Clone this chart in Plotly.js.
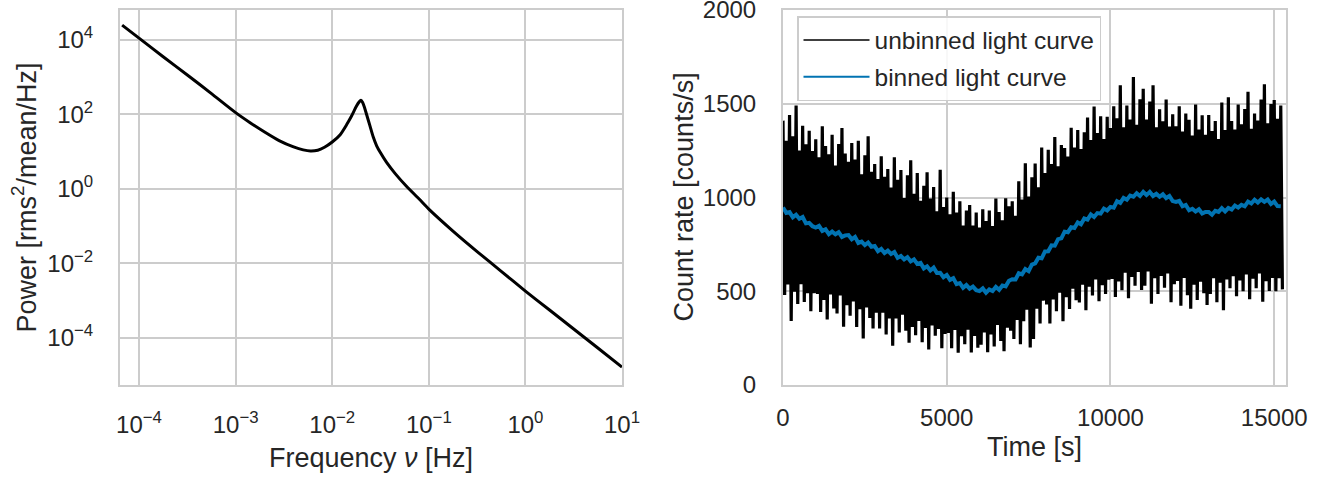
<!DOCTYPE html>
<html><head><meta charset="utf-8">
<script src="https://cdn.plot.ly/plotly-3.0.1.min.js"></script>
<style>html,body{margin:0;padding:0;background:#fff}#chart{width:1329px;height:478px}</style>
</head><body><div id="chart"></div>
<script>
// ---- Left panel: power spectrum (log10 values) ----
const logFreq = [-4.175,-4.0,-3.75,-3.5,-3.25,-3.0,-2.85,-2.7,-2.55,-2.4,-2.3,-2.226,-2.15,-2.08,-2.0,-1.92,-1.85,-1.8,-1.75,-1.72,-1.703,-1.685,-1.665,-1.644,-1.61,-1.576,-1.54,-1.5,-1.439,-1.35,-1.234,-1.1,-1.0,-0.75,-0.5,-0.25,0.0,0.25,0.5,0.75,1.0];
const logPower = [4.40,4.05,3.55,3.06,2.56,2.05,1.78,1.53,1.30,1.13,1.05,1.02,1.04,1.12,1.26,1.45,1.73,1.96,2.22,2.34,2.38,2.32,2.18,2.00,1.70,1.40,1.16,0.97,0.72,0.42,0.08,-0.27,-0.54,-1.13,-1.68,-2.21,-2.74,-3.25,-3.76,-4.27,-4.78];
const powerTickVals = [1e-4,1e-2,1,1e2,1e4];
const powerTickText = ['10<sup>\u22124</sup>','10<sup>\u22122</sup>','10<sup>0</sup>','10<sup>2</sup>','10<sup>4</sup>'];
const freqTickVals = [1e-4,1e-3,1e-2,1e-1,1,10];
const freqTickText = ['10<sup>\u22124</sup>','10<sup>\u22123</sup>','10<sup>\u22122</sup>','10<sup>\u22121</sup>','10<sup>0</sup>','10<sup>1</sup>'];

// ---- Right panel: light curves (count rate in counts/s) ----
const timeStep = 100;      // s between samples
const unbinnedHigh = [
1410,1302,1440,1326,1490,1250,1382,1284,1356,1248,
1310,1215,1380,1275,1230,1335,1170,1285,1370,1235,
1190,1291,1202,1303,1124,1225,1326,1137,1178,1099,
1220,1111,1152,1053,1214,1095,1146,997,1118,1199,
1020,1131,982,1063,1134,995,1056,927,1148,949,
1000,910,1030,920,980,850,930,960,850,920,
840,937,874,931,848,995,922,879,996,953,
980,903,1086,989,1182,1005,1108,1181,1054,1267,
1130,1254,1178,1322,1166,1280,1264,1218,1372,1266,
1360,1259,1348,1427,1306,1485,1344,1433,1312,1431,
1370,1486,1422,1598,1374,1490,1416,1642,1388,1524,
1580,1416,1512,1598,1374,1470,1406,1522,1378,1444,
1380,1486,1352,1448,1414,1330,1496,1362,1438,1334,
1440,1354,1408,1312,1506,1360,1534,1408,1362,1496,
1390,1472,1564,1366,1448,1410,1522,1604,1396,1498,
1520,1420,1490];
const unbinnedLow = [
480,536,341,497,432,538,443,489,394,490,
485,390,454,349,483,408,382,477,311,426,
370,445,309,404,248,413,357,302,386,301,
385,270,355,210,355,280,375,290,225,310,
265,341,228,304,190,317,263,299,196,272,
278,196,294,172,260,217,295,173,261,199,
215,280,175,270,205,320,235,180,305,290,
245,347,218,340,402,200,245,407,328,450,
430,328,456,394,492,340,468,406,514,452,
440,535,399,524,478,563,447,532,486,561,
565,469,552,506,599,463,576,530,603,507,
530,606,433,569,486,582,519,595,442,538,
555,423,571,479,407,535,453,551,489,427,
485,569,442,546,399,563,516,580,473,557,
500,589,458,567,516,595,444,553,502,571,
500,570,510];
const binnedRate = [
947,918,922,894,908,887,896,862,865,847,
840,849,822,830,805,818,804,815,790,798,
800,777,790,758,765,746,760,737,741,714,
726,704,717,699,709,678,688,670,682,659,
670,646,651,622,633,611,626,597,598,575,
587,561,570,538,543,518,533,514,525,506,
501,515,492,510,501,523,508,531,526,556,
564,563,596,590,618,607,642,649,679,676,
712,713,745,743,778,782,818,815,841,837,
867,857,888,882,910,896,917,914,941,931,
950,946,980,971,998,988,1010,1004,1023,1008,
1030,1013,1030,1008,1020,1004,1017,997,1008,981,
976,982,953,960,932,940,925,937,915,923,
923,908,929,923,943,926,944,936,957,946,
961,953,978,968,988,973,990,977,989,965,
978,954,953];
const timeTicks = [0,5000,10000,15000];
const rateTicks = [0,500,1000,1500,2000];
const seriesNames = ['unbinned light curve', 'binned light curve'];

// ---- build traces ----
const freq = logFreq.map(v => Math.pow(10, v));
const power = logPower.map(v => Math.pow(10, v));

const tUnb = [], rUnb = [];
for (let i = 0; i < unbinnedHigh.length; i++) {
  tUnb.push(i * timeStep); rUnb.push(unbinnedHigh[i]);
  tUnb.push(i * timeStep + timeStep / 2); rUnb.push(unbinnedLow[i]);
}
const tBin = binnedRate.map((_, i) => i * timeStep);

const FONT = 'Liberation Sans, Arial, Helvetica, sans-serif';
const TXT = '#262626';
const GRID = '#cccccc';
const BLUE = '#0173b2';

const traces = [
  {x: freq, y: power, type: 'scatter', mode: 'lines', xaxis: 'x', yaxis: 'y',
   line: {color: '#000000', width: 3, shape: 'spline', smoothing: 0.7}, showlegend: false, hoverinfo: 'skip'},
  {x: tUnb, y: rUnb, type: 'scatter', mode: 'lines', xaxis: 'x2', yaxis: 'y2',
   name: seriesNames[0], showlegend: false,
   line: {color: '#000000', width: 3.2}, hoverinfo: 'skip'},
  {x: tBin, y: binnedRate, type: 'scatter', mode: 'lines', xaxis: 'x2', yaxis: 'y2',
   name: seriesNames[1], showlegend: false,
   line: {color: BLUE, width: 4}, hoverinfo: 'skip'},
  // legend entries (thin sample lines, as in the reference legend)
  {x: [null], y: [null], type: 'scatter', mode: 'lines', xaxis: 'x2', yaxis: 'y2',
   name: seriesNames[0], legendgroup: 'a', line: {color: '#000000', width: 1.5}, hoverinfo: 'skip'},
  {x: [null], y: [null], type: 'scatter', mode: 'lines', xaxis: 'x2', yaxis: 'y2',
   name: seriesNames[1], legendgroup: 'b', line: {color: BLUE, width: 2}, hoverinfo: 'skip'}
];

const axisCommon = {
  showline: true, mirror: true, linecolor: GRID, linewidth: 2,
  showgrid: true, gridcolor: GRID, gridwidth: 2, zeroline: false,
  ticks: 'outside', tickcolor: 'rgba(0,0,0,0)', ticklabeloverflow: 'allow',
  tickfont: {family: FONT, size: 24, color: TXT}, automargin: false
};

const W = 1329, T = 10, B = 93, PH = 478 - T - B;
const px = v => v / W;
const py = v => (385 - v) / PH;
const titleFont = {family: FONT, size: 27, color: TXT};

const layout = {
  width: 1329, height: 478,
  margin: {l: 0, r: 0, t: T, b: B},
  paper_bgcolor: '#ffffff', plot_bgcolor: '#ffffff',
  font: {family: FONT, color: TXT, size: 24},
  xaxis: Object.assign({}, axisCommon, {
    type: 'log', domain: [px(120), px(622)], range: [-4.197, 1.0],
    tickvals: freqTickVals, ticktext: freqTickText, ticklen: 17, anchor: 'y'}),
  yaxis: Object.assign({}, axisCommon, {
    type: 'log', range: [-5.262, 4.805],
    tickvals: powerTickVals, ticktext: powerTickText, ticklen: 20, anchor: 'x'}),
  xaxis2: Object.assign({}, axisCommon, {
    domain: [px(783), px(1286)], range: [0, 15360],
    tickvals: timeTicks, ticktext: timeTicks.map(String), ticklen: 10, anchor: 'y2'}),
  yaxis2: Object.assign({}, axisCommon, {
    range: [0, 2000], tickvals: rateTicks, ticktext: rateTicks.map(String),
    ticklen: 20, anchor: 'x2'}),
  showlegend: true,
  legend: {x: px(797), y: py(16), xanchor: 'left', yanchor: 'top',
    bgcolor: 'rgba(255,255,255,0.85)', bordercolor: GRID, borderwidth: 1.5,
    font: {family: FONT, size: 24.5, color: TXT}, tracegroupgap: 2, traceorder: 'grouped',
    itemwidth: 66},
  annotations: [
    {text: 'Frequency <i>\u03bd</i> [Hz]', xref: 'paper', yref: 'paper', x: px(371), y: py(458),
     xanchor: 'center', yanchor: 'middle', showarrow: false, font: titleFont},
    {text: 'Time [s]', xref: 'paper', yref: 'paper', x: px(1034.5), y: py(447),
     xanchor: 'center', yanchor: 'middle', showarrow: false, font: titleFont},
    {text: 'Power [rms<sup>2</sup>/mean/Hz]', xref: 'paper', yref: 'paper', x: px(24), y: py(197.5),
     xanchor: 'center', yanchor: 'middle', textangle: -90, showarrow: false, font: titleFont},
    {text: 'Count rate [counts/s]', xref: 'paper', yref: 'paper', x: px(683), y: py(197.5),
     xanchor: 'center', yanchor: 'middle', textangle: -90, showarrow: false, font: titleFont}
  ]
};

Plotly.newPlot('chart', traces, layout, {displayModeBar: false, staticPlot: true});
</script></body></html>
